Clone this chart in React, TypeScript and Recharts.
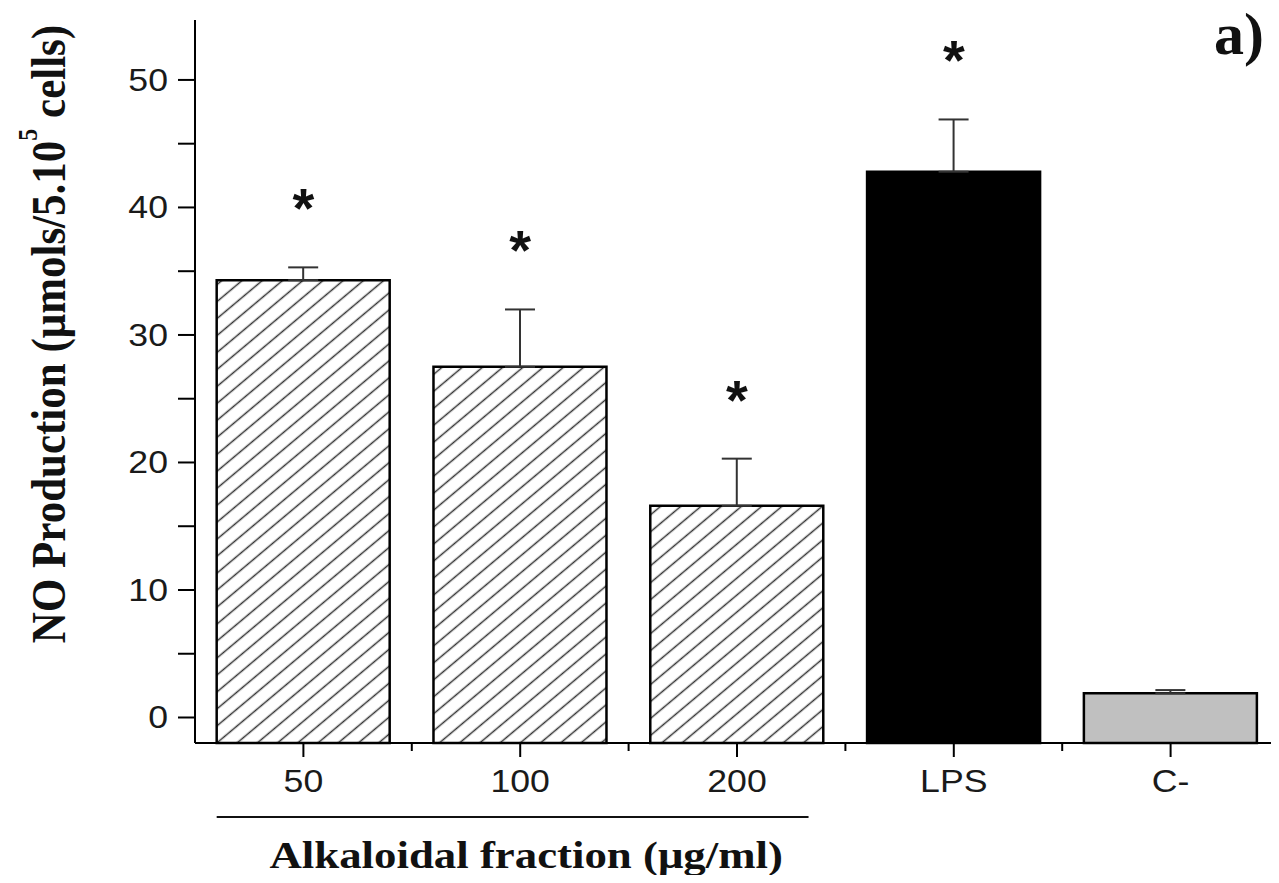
import React from 'react';
import { ComposedChart, Bar, Cell, ErrorBar, Scatter, XAxis, YAxis } from 'recharts';

// values
const categories = ['50', '100', '200', 'LPS', 'C-'];
const means = [34.3, 27.5, 16.6, 42.8, 1.9];
const errors = [1.0, 4.5, 3.7, 4.1, 0.25];
const significant = [true, true, true, true, false];
const fills = ['url(#hatch)', 'url(#hatch)', 'url(#hatch)', '#000000', '#c0c0c0'];
const yTicks = [0, 5, 10, 15, 20, 25, 30, 35, 40, 45, 50];
const yLabels = [0, 10, 20, 30, 40, 50];
const groupName = 'Alkaloidal fraction (μg/ml)';
const groupSize = 3;

const AXIS_FLOOR = -2;
const AXIS_TOP = 54.7;

const W = 1279;
const H = 883;
const LEFT = 195;
const BOTTOM = 140;
const BAND = (W - LEFT) / categories.length;

const SERIF = "'Liberation Serif', 'Times New Roman', serif";
const SANS = "'Liberation Sans', Arial, sans-serif";

const data = categories.map((name, i) => ({
  name,
  range: [AXIS_FLOOR, means[i]],
  err: [0, errors[i]],
  top: means[i] + errors[i],
  star: significant[i],
}));

function YTick(props: any) {
  const { x, y, payload } = props;
  if (!yLabels.includes(payload.value)) return <g />;
  return (
    <text
      transform={`translate(${x},${y}) scale(1.15,1)`}
      textAnchor="end"
      dominantBaseline="central"
      fontFamily={SANS}
      fontSize={31}
      fill="#1a1a1a"
    >
      {payload.value}
    </text>
  );
}

function XTick(props: any) {
  const { x, y, payload } = props;
  // minor tick between categories
  return (
    <g>
      <line x1={x + BAND / 2} x2={x + BAND / 2} y1={y - 14} y2={y - 6} stroke="#000" strokeWidth={2} />
      <text
        transform={`translate(${x},${y + 35}) scale(1.15,1)`}
        textAnchor="middle"
        fontFamily={SANS}
        fontSize={31}
        fill="#1a1a1a"
      >
        {payload.value}
      </text>
    </g>
  );
}

function GroupLabel(props: any) {
  const { x, y } = props.viewBox;
  return (
    <g>
      <line
        x1={x + 0.1 * BAND}
        x2={x + groupSize * BAND - 0.17 * BAND}
        y1={y + 74}
        y2={y + 74}
        stroke="#111"
        strokeWidth={2}
      />
      <text
        transform={`translate(${x + (groupSize / 2) * BAND + 6},${y + 125}) scale(1.18,1)`}
        textAnchor="middle"
        fontFamily={SERIF}
        fontWeight="bold"
        fontSize={38}
        fill="#111"
      >
        {groupName}
      </text>
    </g>
  );
}

function YTitle() {
  return (
    <text
      transform="translate(48,334) rotate(-90) scale(1,1.15)"
      textAnchor="middle"
      dominantBaseline="central"
      fontFamily={SERIF}
      fontWeight="bold"
      fontSize={43}
      fill="#111"
    >
      NO Production (μmols/5.10
      <tspan fontSize={24} dy={-18}>5</tspan>
      <tspan dy={18}> cells)</tspan>
    </text>
  );
}

function Star(props: any) {
  const { cx, cy, payload } = props;
  if (!payload.star) return <g />;
  return (
    <text x={cx} y={cy - 40} textAnchor="middle" fontFamily={SANS} fontWeight="bold" fontSize={56} fill="#111">
      *
    </text>
  );
}

export default function App() {
  return (
    <div style={{ margin: -8, position: 'relative', width: W, height: H, background: '#fff' }}>
      <svg width={0} height={0} style={{ position: 'absolute' }}>
        <defs>
          <pattern id="hatch" patternUnits="userSpaceOnUse" width={13} height={13} patternTransform="rotate(-40)">
            <rect width={13} height={13} fill="#fff" />
            <line x1={0} y1={6.5} x2={13} y2={6.5} stroke="#333" strokeWidth={1.5} />
          </pattern>
        </defs>
      </svg>
      <ComposedChart
        width={W}
        height={H}
        data={data}
        margin={{ top: 20, right: 0, left: 0, bottom: 0 }}
        barCategoryGap="10%"
      >
        <XAxis
          dataKey="name"
          height={BOTTOM}
          interval={0}
          tickSize={14}
          tickMargin={0}
          axisLine={{ stroke: '#000', strokeWidth: 2 }}
          tickLine={{ stroke: '#000', strokeWidth: 2 }}
          tick={<XTick />}
          label={{ content: (p: any) => <GroupLabel {...p} /> }}
        />
        <YAxis
          width={LEFT}
          type="number"
          domain={[AXIS_FLOOR, AXIS_TOP]}
          ticks={yTicks}
          interval={0}
          tickSize={17}
          tickMargin={10}
          axisLine={{ stroke: '#000', strokeWidth: 2 }}
          tickLine={{ stroke: '#000', strokeWidth: 2 }}
          tick={<YTick />}
          label={{ content: () => <YTitle /> }}
        />
        <Bar dataKey="range" stroke="#000" strokeWidth={2.5} isAnimationActive={false}>
          {data.map((d, i) => (
            <Cell key={d.name} fill={fills[i]} />
          ))}
          <ErrorBar dataKey="err" width={15} stroke="#333" strokeWidth={2} direction="y" />
        </Bar>
        <Scatter dataKey="top" shape={<Star />} isAnimationActive={false} />
      </ComposedChart>
      <svg width={W} height={H} style={{ position: 'absolute', left: 0, top: 0, pointerEvents: 'none' }}>
        <text x={1214} y={54} fontFamily={SERIF} fontWeight="bold" fontSize={60} fill="#111">
          a)
        </text>
      </svg>
    </div>
  );
}
